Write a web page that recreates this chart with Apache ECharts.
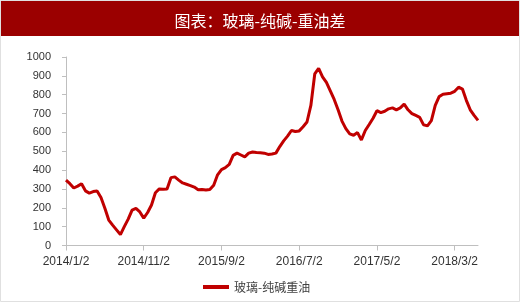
<!DOCTYPE html>
<html>
<head>
<meta charset="utf-8">
<script src="https://cdn.jsdelivr.net/npm/echarts@6/dist/echarts.min.js"></script>
<style>
html,body{margin:0;padding:0;background:#fff;}
#chart{width:520px;height:302px;}
</style>
</head>
<body>
<div id="chart"></div>
<script>
// Semi-monthly dates (2nd and 16th of each month), 2014/1/2 .. 2018/6/2
var startYear = 2014;
var categories = [];
for (var k = 0; k <= 53; k++) {
  var y = startYear + Math.floor(k / 12);
  var m = (k % 12) + 1;
  categories.push(y + '/' + m + '/2');
  if (k < 53) categories.push(y + '/' + m + '/16');
}

var seriesName = '玻璃-纯碱重油';
var values = [
  347, 328, 305, 315, 328, 290, 278, 286, 289, 255,
  198, 135, 108, 83, 58, 100, 140, 188, 197, 178,
  145, 175, 215, 280, 300, 298, 300, 360, 364, 347,
  332, 325, 318, 310, 296, 297, 294, 297, 320, 375,
  403, 413, 430, 478, 490, 480, 470, 490, 496, 493,
  492, 490, 483, 485, 490, 525, 555, 580, 610, 605,
  608, 630, 655, 743, 910, 940, 895, 865, 820, 775,
  720, 660, 620, 592, 585, 599, 560, 610, 642, 675,
  715, 705, 712, 725, 730, 720, 730, 750, 720, 700,
  690, 680, 640, 635, 662, 743, 790, 802, 805, 808,
  818, 840, 830, 770, 720, 690, 664
];

var titleText = '图表：玻璃-纯碱-重油差';
var yTicks = [0, 100, 200, 300, 400, 500, 600, 700, 800, 900, 1000];

var chart = echarts.init(document.getElementById('chart'));
chart.setOption({
  backgroundColor: '#ffffff',
  animation: false,
  graphic: [
    { type: 'rect', shape: { x: 0.5, y: 0.5, width: 519, height: 301 }, style: { fill: 'none', stroke: '#e0e0e0', lineWidth: 1 }, z: -1 },
    { type: 'rect', shape: { x: 1, y: 1, width: 518, height: 35 }, style: { fill: '#9b0000' }, z: 0 }
  ],
  title: {
    text: titleText,
    left: 'center',
    top: 8,
    textStyle: { color: '#ffffff', fontSize: 16, fontWeight: 'normal', fontFamily: 'Noto Sans CJK SC' },
    z: 10
  },
  legend: {
    data: [seriesName],
    left: 203,
    top: 281,
    padding: 0,
    icon: 'rect',
    itemWidth: 26,
    itemHeight: 4,
    itemGap: 4,
    textStyle: { color: '#404040', fontSize: 12, fontFamily: 'Noto Sans CJK SC' }
  },
  grid: { left: 66, right: 42, top: 57, bottom: 56.5, containLabel: false },
  xAxis: {
    type: 'category',
    data: categories,
    boundaryGap: false,
    axisLine: { lineStyle: { color: '#bfbfbf', width: 1 } },
    axisTick: { show: true, interval: 19, length: 5, lineStyle: { color: '#bfbfbf' } },
    axisLabel: { interval: 19, margin: 10, color: '#333333', fontSize: 12, fontFamily: 'Liberation Sans' },
    splitLine: { show: false }
  },
  yAxis: {
    type: 'value',
    min: yTicks[0],
    max: yTicks[yTicks.length - 1],
    interval: 100,
    axisLine: { show: true, lineStyle: { color: '#bfbfbf', width: 1 } },
    axisTick: { show: true, length: 4, lineStyle: { color: '#bfbfbf' } },
    axisLabel: {
      margin: 15, color: '#333333', fontSize: 11, fontFamily: 'Liberation Sans',
      formatter: function (v) { return String(v); }
    },
    splitLine: { show: false }
  },
  series: [{
    name: seriesName,
    type: 'line',
    data: values,
    showSymbol: false,
    symbol: 'none',
    smooth: false,
    lineStyle: { color: '#c00000', width: 3 },
    itemStyle: { color: '#c00000' }
  }]
});
</script>
</body>
</html>
